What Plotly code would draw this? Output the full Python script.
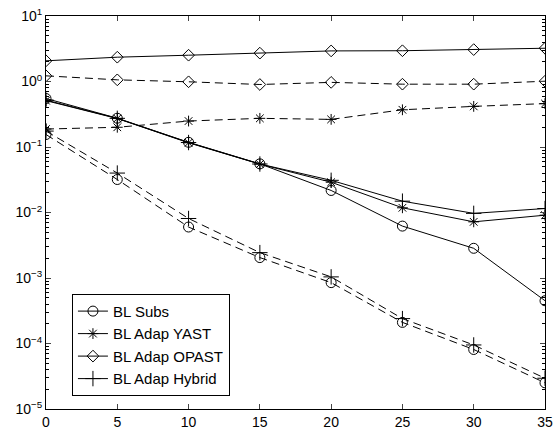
import plotly.graph_objects as go

x = [0, 5, 10, 15, 20, 25, 30, 35]

# solid series (legend)
subs_solid   = [0.55, 0.275, 0.118, 0.0553, 0.0217, 0.0062, 0.00284, 0.00045]
yast_solid   = [0.51, 0.272, 0.116, 0.0548, 0.029, 0.0118, 0.0072, 0.0091]
opast_solid  = [2.07, 2.35, 2.52, 2.71, 2.93, 2.95, 3.07, 3.22]
hybrid_solid = [0.52, 0.274, 0.117, 0.0550, 0.031, 0.0149, 0.0097, 0.0115]

# dashed series
subs_dash   = [0.155, 0.0319, 0.0060, 0.00205, 0.00085, 0.00021, 0.000081, 0.0000251]
yast_dash   = [0.188, 0.200, 0.249, 0.274, 0.264, 0.370, 0.417, 0.460]
opast_dash  = [1.22, 1.06, 0.99, 0.90, 0.97, 0.91, 0.91, 1.01]
hybrid_dash = [0.175, 0.040, 0.0081, 0.00244, 0.00104, 0.00024, 0.000095, 0.0000295]

names = ["BL Subs", "BL Adap YAST", "BL Adap OPAST", "BL Adap Hybrid"]
symbols = ["circle-open", "asterisk-open", "diamond-open", "cross-thin-open"]
sizes = [10, 9, 9, 11]

fig = go.Figure()
solids = [subs_solid, yast_solid, opast_solid, hybrid_solid]
dashes = [subs_dash, yast_dash, opast_dash, hybrid_dash]

for ys, nm, sym, sz in zip(dashes, names, symbols, sizes):
    fig.add_trace(go.Scatter(
        x=x, y=ys, mode="lines+markers", showlegend=False,
        line=dict(color="black", width=1, dash="8px,5px"),
        marker=dict(symbol=sym, size=sz, color="black", line=dict(width=1, color="black")),
    ))
for ys, nm, sym, sz in zip(solids, names, symbols, sizes):
    fig.add_trace(go.Scatter(
        x=x, y=ys, mode="lines+markers", name=nm,
        line=dict(color="black", width=1),
        marker=dict(symbol=sym, size=sz, color="black", line=dict(width=1, color="black")),
    ))

ytickvals = [1e-5, 1e-4, 1e-3, 1e-2, 1e-1, 1, 10]
yticktext = ["10<sup>−5</sup>", "10<sup>−4</sup>", "10<sup>−3</sup>", "10<sup>−2</sup>",
             "10<sup>−1</sup>", "10<sup>0</sup>", "10<sup>1</sup>"]
yminor = [m * 10.0 ** e for e in range(-5, 1) for m in range(2, 10)]

fig.update_layout(
    width=559, height=430,
    margin=dict(l=46, r=14, t=16, b=21, autoexpand=False),
    paper_bgcolor="white", plot_bgcolor="white",
    font=dict(family="Liberation Sans, Arial, sans-serif", size=14, color="black"),
    showlegend=True,
    legend=dict(x=0.052, y=0.293, xanchor="left", yanchor="top",
                bordercolor="black", borderwidth=1, bgcolor="white",
                font=dict(size=15), tracegroupgap=0),
    xaxis=dict(range=[0, 35], tickvals=[0, 5, 10, 15, 20, 25, 30, 35],
               ticks="inside", ticklen=5, mirror="ticks", showline=True,
               linecolor="black", linewidth=1, showgrid=False, zeroline=False,
               automargin=False, tickfont=dict(size=14)),
    yaxis=dict(type="log", range=[-5, 1], tickvals=ytickvals, ticktext=yticktext,
               ticks="inside", ticklen=5, mirror="ticks", showline=True,
               linecolor="black", linewidth=1, showgrid=False, zeroline=False,
               automargin=False,
               minor=dict(tickvals=yminor, ticks="inside", ticklen=3,
                          tickcolor="black", showgrid=False),
               tickfont=dict(size=14)),
)

fig.write_html("out.html", config={"displayModeBar": False},
               post_script="document.body.style.margin='0';")
